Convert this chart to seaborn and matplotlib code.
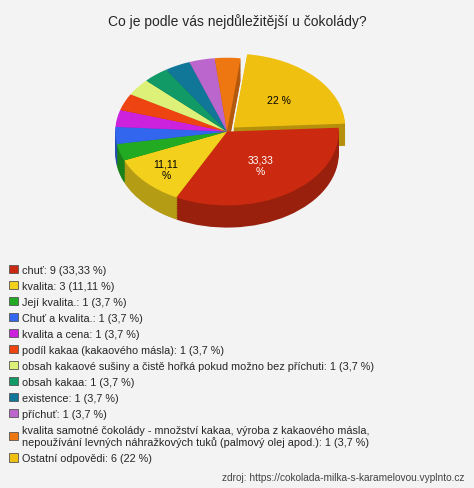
import matplotlib
matplotlib.use("Agg")
import matplotlib.pyplot as plt
import seaborn as sns
import numpy as np
from matplotlib.colors import to_rgb

sns.set_style("white")
plt.rcParams['font.family'] = ['Liberation Sans', 'DejaVu Sans']

labels = ["chuť: 9 (33,33 %)", "kvalita: 3 (11,11 %)", "Její kvalita.: 1 (3,7 %)",
          "Chuť a kvalita.: 1 (3,7 %)", "kvalita a cena: 1 (3,7 %)",
          "podíl kakaa (kakaového másla): 1 (3,7 %)",
          "obsah kakaové sušiny a čistě hořká pokud možno bez příchuti: 1 (3,7 %)",
          "obsah kakaa: 1 (3,7 %)", "existence: 1 (3,7 %)", "příchuť: 1 (3,7 %)",
          "kvalita samotné čokolády - množství kakaa, výroba z kakaového másla,\nnepoužívání levných náhražkových tuků (palmový olej apod.): 1 (3,7 %)",
          "Ostatní odpovědi: 6 (22 %)"]
values = [9, 3, 1, 1, 1, 1, 1, 1, 1, 1, 1, 6]
pcts = ["33,33\n%", "11,11\n%", "", "", "", "", "", "", "", "", "", "22 %"]
colors = ["#cc2a10", "#f2d01c", "#22aa22", "#3366ee", "#cc22dd", "#ee4411",
          "#ddf077", "#119966", "#117799", "#bb66cc", "#ee7711", "#f0c010"]

order = [11] + list(range(11))
v = [values[i] for i in order]
c = [colors[i] for i in order]
explode = [0.08] + [0] * 11

fig = plt.figure(figsize=(4.74, 4.89), dpi=100)
fig.patch.set_facecolor("#f3f3f3")
ax = fig.add_axes([0.215, 0.525, 0.535, 0.37])
dark = [tuple(np.array(to_rgb(x)) * 0.75) for x in c]
for k in range(12, 0, -1):
    ax.pie(v, colors=dark, startangle=83, counterclock=False, explode=explode,
           center=(0, -0.025 * k), wedgeprops=dict(linewidth=0))
wedges, texts = ax.pie(v, colors=c, startangle=83, counterclock=False, explode=explode,
                       wedgeprops=dict(linewidth=0))
ax.set_aspect('auto')
ax.set_xlim(-1.12, 1.15)
ax.set_ylim(-1.35, 1.1)
ax.axis('off')
for w, i in zip(wedges, order):
    if not pcts[i]:
        continue
    th = np.deg2rad((w.theta1 + w.theta2) / 2)
    r = 0.55 if i != 1 else 0.75
    cx, cy = w.center
    ax.text(cx + r * np.cos(th), cy + r * np.sin(th), pcts[i], ha='center', va='center',
            fontsize=7.5, color='white' if i == 0 else 'black')

handles = [wedges[order.index(i)] for i in range(12)]
fig.legend(handles, labels, loc='upper left', bbox_to_anchor=(0.01, 0.465), frameon=False,
           fontsize=7.8, handlelength=0.8, handleheight=0.8, handletextpad=0.4,
           labelspacing=0.55, borderaxespad=0)
for h in fig.legends[0].legend_handles:
    h.set_edgecolor('#555555'); h.set_linewidth(0.6)
fig.text(0.5, 0.955, "Co je podle vás nejdůležitější u čokolády?", ha='center', va='center', fontsize=10)
fig.text(0.98, 0.022, "zdroj: https://cokolada-milka-s-karamelovou.vyplnto.cz", ha='right',
         va='center', fontsize=7.3, color='#444444')
fig.savefig("out.png", dpi=100, facecolor=fig.get_facecolor())
